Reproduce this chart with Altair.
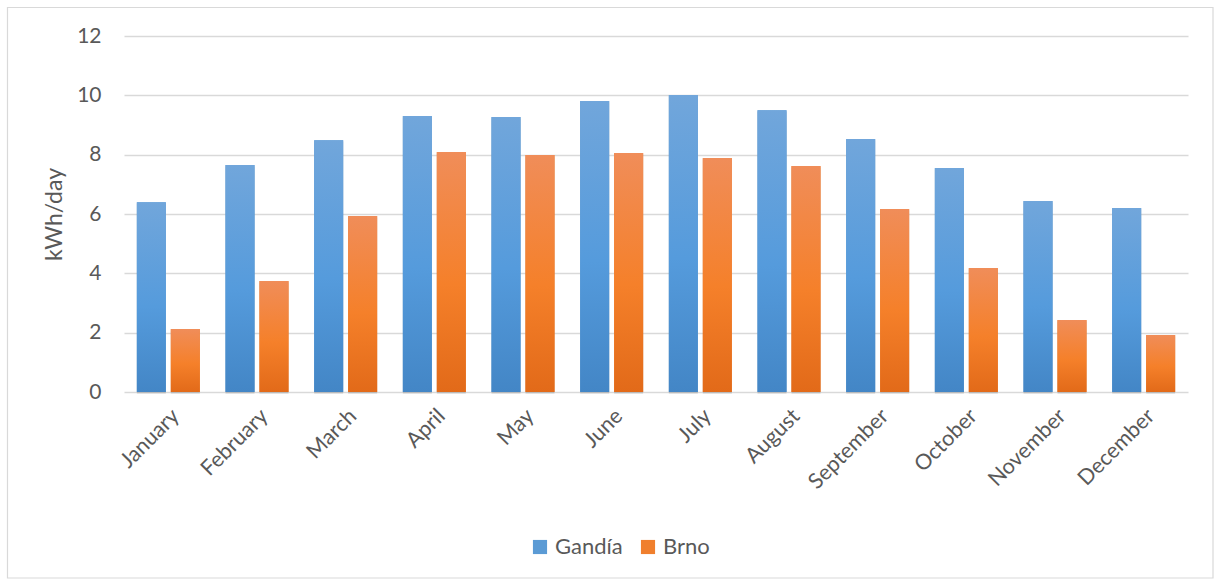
import altair as alt
import pandas as pd

months = ["January", "February", "March", "April", "May", "June", "July",
          "August", "September", "October", "November", "December"]
gandia = [6.40, 7.65, 8.49, 9.30, 9.27, 9.81, 10.01, 9.50, 8.53, 7.55, 6.44, 6.20]
brno = [2.12, 3.74, 5.93, 8.09, 7.99, 8.06, 7.89, 7.62, 6.17, 4.18, 2.43, 1.92]
series = ["Gandía", "Brno"]

rows = []
for m, g, b in zip(months, gandia, brno):
    rows.append({"month": m, "series": series[0], "value": g})
    rows.append({"month": m, "series": series[1], "value": b})
df = pd.DataFrame(rows)

FONT = "Lato"
TXT = "#595959"

x_enc = alt.X("month:N", sort=months, title=None,
              scale=alt.Scale(paddingInner=0.29, paddingOuter=0.145),
              axis=alt.Axis(labelAngle=-45, labelAlign="right", labelBaseline="top",
                            labelPadding=13, labelFontSize=21.5, labelColor=TXT,
                            labelFont=FONT, domain=False, ticks=False, grid=False))
y_enc = alt.Y("value:Q", title="kWh/day",
              scale=alt.Scale(domain=[0, 12], nice=False),
              axis=alt.Axis(values=[0, 2, 4, 6, 8, 10, 12], labelFontSize=21,
                            labelColor=TXT, labelFont=FONT, labelPadding=23,
                            titleFontSize=23, titleColor=TXT, titleFont=FONT,
                            titleFontWeight="normal", titlePadding=10,
                            domain=False, ticks=False, gridColor="#D9D9D9",
                            gridWidth=1.3))
xo_enc = alt.XOffset("series:N", sort=series,
                     scale=alt.Scale(domain=series, paddingInner=0.147, paddingOuter=0))

base = alt.Chart(df)

shadow = base.mark_bar(color="#7f7f7f", opacity=0.35, xOffset=2.5, yOffset=1.5).encode(
    x=x_enc, y=y_enc, xOffset=xo_enc)

legend_layer = base.mark_bar().encode(
    x=x_enc, y=y_enc, xOffset=xo_enc,
    color=alt.Color("series:N", sort=series,
                    scale=alt.Scale(domain=series, range=["#5B9BD5", "#F07F2D"]),
                    legend=alt.Legend(title=None, orient="none", direction="horizontal",
                                      legendX=405, legendY=500, symbolType="square",
                                      symbolSize=200, symbolStrokeWidth=0,
                                      labelFontSize=22, labelColor=TXT, labelFont=FONT,
                                      labelOffset=4, columnPadding=14, symbolOffset=0)))

blue_grad = alt.Gradient(gradient="linear", x1=0, x2=0, y1=0, y2=1, stops=[
    alt.GradientStop(color="#71A6DB", offset=0),
    alt.GradientStop(color="#559BDC", offset=0.55),
    alt.GradientStop(color="#4386C6", offset=1)])
orange_grad = alt.Gradient(gradient="linear", x1=0, x2=0, y1=0, y2=1, stops=[
    alt.GradientStop(color="#F08D59", offset=0),
    alt.GradientStop(color="#F5802A", offset=0.55),
    alt.GradientStop(color="#E26A19", offset=1)])

g_layer = base.transform_filter(alt.datum.series == series[0]).mark_bar().encode(
    x=x_enc, y=y_enc, xOffset=xo_enc, color=alt.value(blue_grad))
b_layer = base.transform_filter(alt.datum.series == series[1]).mark_bar().encode(
    x=x_enc, y=y_enc, xOffset=xo_enc, color=alt.value(orange_grad))

border = alt.Chart(alt.Data(values=[{"a": 1}])).mark_rect(
    fill=None, stroke="#D9D9D9", strokeWidth=1.2).encode(
    x=alt.value(-116.5), x2=alt.value(1089), y=alt.value(-28.5), y2=alt.value(542))

chart = alt.layer(border, shadow, legend_layer, g_layer, b_layer).properties(
    width=1064, height=356,
    padding={"left": 124, "top": 36, "right": 26, "bottom": 187},
    autosize=alt.AutoSizeParams(type="none"),
    background="white",
).configure_view(stroke=None).configure_axis(labelFont=FONT)

chart.save("out.html", embed_options={"renderer": "svg", "actions": False})
